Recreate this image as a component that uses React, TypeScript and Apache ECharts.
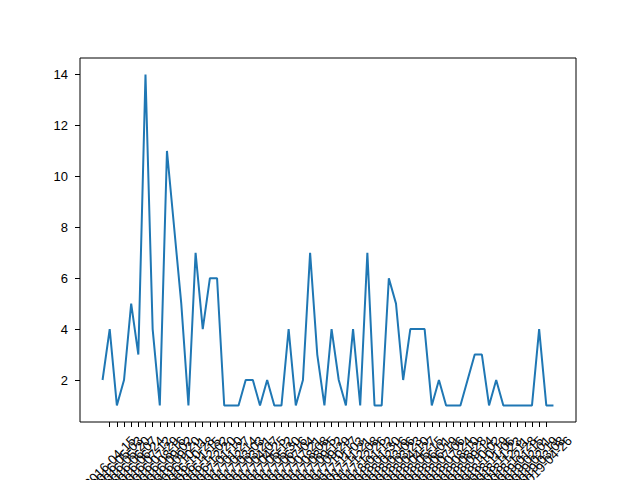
import React, { useEffect, useRef } from "react";
import * as echarts from "echarts";

const dates: string[] = [
  "2016-04-08", "2016-04-15", "2016-05-03", "2016-05-20", "2016-06-07", "2016-06-24", "2016-07-12", "2016-07-29",
  "2016-08-16", "2016-09-02", "2016-09-20", "2016-10-11", "2016-10-28", "2016-11-15", "2016-12-02", "2016-12-20",
  "2017-01-10", "2017-01-27", "2017-02-14", "2017-03-03", "2017-03-21", "2017-04-07", "2017-04-25", "2017-05-12",
  "2017-05-30", "2017-06-16", "2017-07-04", "2017-07-21", "2017-08-08", "2017-08-25", "2017-09-12", "2017-09-29",
  "2017-10-17", "2017-11-03", "2017-11-21", "2017-12-08", "2017-12-26", "2018-01-12", "2018-01-30", "2018-02-16",
  "2018-03-06", "2018-03-23", "2018-04-10", "2018-04-27", "2018-05-15", "2018-06-01", "2018-06-19", "2018-07-06",
  "2018-07-24", "2018-08-10", "2018-08-28", "2018-09-14", "2018-10-02", "2018-10-19", "2018-11-06", "2018-11-23",
  "2018-12-11", "2018-12-28", "2019-01-15", "2019-02-01", "2019-02-19", "2019-03-08", "2019-04-26", "2019-05-31",
];

const counts: number[] = [
  2, 4, 1, 2, 5, 3, 14, 4, 1, 11,
  8, 5, 1, 7, 4, 6, 6, 1, 1, 1,
  2, 2, 1, 2, 1, 1, 4, 1, 2, 7,
  3, 1, 4, 2, 1, 4, 1, 7, 1, 1,
  6, 5, 2, 4, 4, 4, 1, 2, 1, 1,
  1, 2, 3, 3, 1, 2, 1, 1, 1, 1,
  1, 4, 1, 1,
];

const yTicks: number[] = [2, 4, 6, 8, 10, 12, 14];

export default function App() {
  const ref = useRef<HTMLDivElement>(null);
  useEffect(() => {
    document.body.style.margin = "0";
    if (!ref.current) return;
    const chart = echarts.init(ref.current, null, { renderer: "svg" });
    const n = dates.length;
    const xPad = (n - 1) * 0.05;
    const yMin = Math.min(...counts);
    const yMax = Math.max(...counts);
    const yPad = (yMax - yMin) * 0.05;
    const idx = dates.map((_, i) => i);
    const font = "Liberation Sans";
    chart.setOption({
      animation: false,
      backgroundColor: "#ffffff",
      grid: {
        left: 80,
        right: 64,
        top: 58,
        bottom: 58,
        show: true,
        borderColor: "#000000",
        borderWidth: 1,
        backgroundColor: "transparent",
        containLabel: false,
        outerBoundsMode: "none",
      },
      xAxis: {
        type: "value",
        min: -xPad,
        max: n - 1 + xPad,
        axisLine: { show: false, onZero: false },
        splitLine: { show: false },
        axisTick: {
          show: true,
          inside: false,
          length: 5,
          lineStyle: { color: "#000000", width: 1 },
          customValues: idx,
        },
        axisLabel: {
          customValues: idx,
          rotate: 45,
          align: "center",
          verticalAlign: "middle",
          margin: 40,
          hideOverlap: false,
          color: "#000000",
          fontFamily: font,
          fontSize: 13,
          formatter: (v: number) => dates[Math.round(v)] ?? "",
        },
      },
      yAxis: {
        type: "value",
        min: yMin - yPad,
        max: yMax + yPad,
        axisLine: { show: false, onZero: false },
        splitLine: { show: false },
        axisTick: {
          show: true,
          inside: false,
          length: 5,
          lineStyle: { color: "#000000", width: 1 },
          customValues: yTicks,
        },
        axisLabel: {
          customValues: yTicks,
          margin: 12,
          color: "#000000",
          fontFamily: font,
          fontSize: 13,
        },
      },
      series: [
        {
          type: "line",
          data: counts.map((v, i) => [i, v]),
          showSymbol: false,
          lineStyle: { color: "#1f77b4", width: 2 },
          itemStyle: { color: "#1f77b4" },
        },
      ],
    });
    return () => chart.dispose();
  }, []);
  return <div ref={ref} style={{ width: 640, height: 480 }} />;
}
